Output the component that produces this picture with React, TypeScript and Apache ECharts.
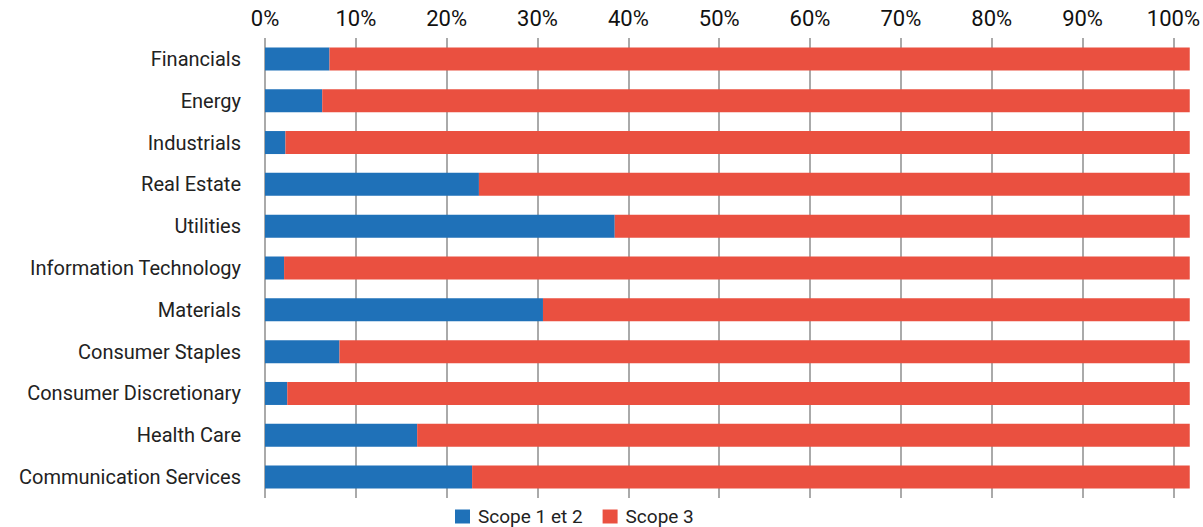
import React, { useEffect, useRef } from "react";
import * as echarts from "echarts";

const categories = [
  "Financials",
  "Energy",
  "Industrials",
  "Real Estate",
  "Utilities",
  "Information Technology",
  "Materials",
  "Consumer Staples",
  "Consumer Discretionary",
  "Health Care",
  "Communication Services",
];

const scope12 = [7.1, 6.3, 2.25, 23.55, 38.5, 2.1, 30.6, 8.2, 2.45, 16.75, 22.8];
const scope3 = [94.7, 95.5, 99.55, 78.25, 63.3, 99.7, 71.2, 93.6, 99.35, 85.05, 79.0];

const seriesNames = ["Scope 1 et 2", "Scope 3"];
const FONT = "Roboto, 'Noto Sans', sans-serif";

export default function App() {
  const ref = useRef<HTMLDivElement>(null);
  useEffect(() => {
    if (!ref.current) return;
    const chart = echarts.init(ref.current, null, { renderer: "svg" });
    chart.setOption({
      animation: false,
      textStyle: { fontFamily: FONT },
      grid: { left: 265, right: 11, top: 38, height: 460 },
      legend: {
        top: 507,
        left: 455,
        padding: 0,
        itemWidth: 15,
        itemHeight: 14,
        itemGap: 20,
        icon: "rect",
        textStyle: {
          fontSize: 19,
          lineHeight: 19,
          color: "#222",
          fontFamily: FONT,
          padding: [0, 0, 0, 3],
        },
        data: seriesNames,
      },
      xAxis: {
        type: "value",
        position: "top",
        min: 0,
        max: 101.8,
        interval: 10,
        axisLine: { show: false },
        axisTick: { show: false },
        axisLabel: {
          showMaxLabel: false,
          fontSize: 22,
          color: "#111",
          margin: 9,
          fontFamily: FONT,
          formatter: (v: number) => `${v}%`,
        },
        splitLine: {
          show: true,
          showMaxLine: false,
          lineStyle: { color: "#aaaaaa", width: 2 },
        },
      },
      yAxis: {
        type: "category",
        inverse: true,
        data: categories,
        axisLine: { show: false },
        axisTick: { show: false },
        axisLabel: { fontSize: 20, color: "#222", margin: 24, fontFamily: FONT },
      },
      series: [
        {
          name: seriesNames[0],
          type: "bar",
          stack: "total",
          barWidth: 23,
          itemStyle: { color: "#1F71B8" },
          data: scope12,
        },
        {
          name: seriesNames[1],
          type: "bar",
          stack: "total",
          barWidth: 23,
          itemStyle: { color: "#EA5040" },
          data: scope3,
        },
      ],
    });
    return () => chart.dispose();
  }, []);
  return (
    <div
      ref={ref}
      style={{ position: "absolute", left: 0, top: 0, width: 1203, height: 527 }}
    />
  );
}
